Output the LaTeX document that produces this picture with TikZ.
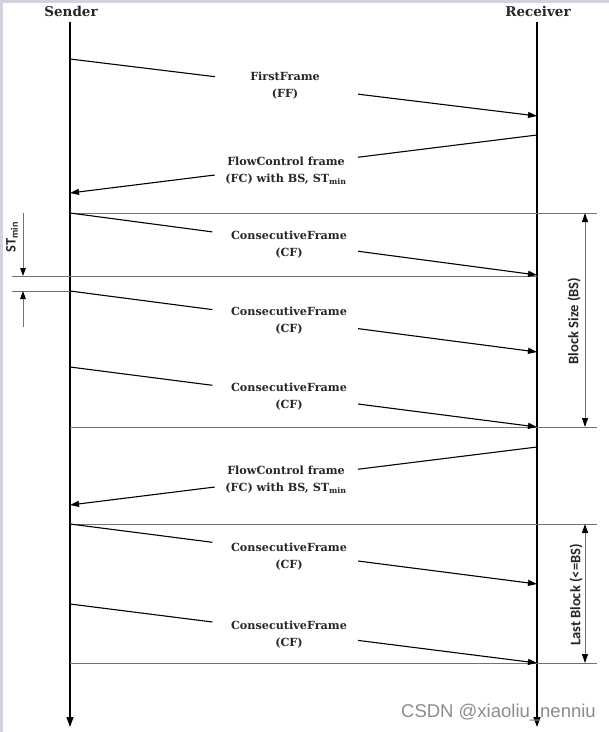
\documentclass[tikz,border=0pt]{standalone}
\usepackage{fontspec}
\setmainfont{DejaVu Serif}
\newfontfamily\sansb{Carlito}
\newfontfamily\wmfont{Liberation Sans}
\usetikzlibrary{arrows.meta,calc}
\newcommand\mymsg[4]{%
  \draw[msg] (#1) -- ($(#1)!#3!(#2)$);
  \draw[msg,tip] ($(#1)!#4!(#2)$) -- (#2);}
\begin{document}
\begin{tikzpicture}[x=1pt,y=-1pt,
  msg/.style={line width=1.1pt,black},
  tip/.style={-{Triangle[length=9pt,width=6pt]}},
  lbl/.style={font=\fontsize{11.2}{17}\selectfont\bfseries, align=center, inner sep=0pt, text=black!85},
  head/.style={font=\fontsize{13.5}{15}\selectfont\bfseries, inner sep=0pt, text=black!85},
  sepline/.style={line width=1pt, black!55},
  dim/.style={line width=1pt, black!55, {Triangle[length=9pt,width=6pt,fill=black,color=black]}-{Triangle[length=9pt,width=6pt,fill=black,color=black]}},
  dimtip/.style={line width=1pt, black!55, -{Triangle[length=8pt,width=5.5pt,fill=black,color=black]}},
  life/.style={line width=1.4pt, black, -{Triangle[length=10pt,width=7pt]}},
  side/.style={font=\sansb\bfseries\fontsize{14.5}{15}\selectfont, rotate=90, inner sep=0pt, text=black!85},
]
\useasboundingbox (0,0) rectangle (609,732);
\fill[white] (0,0) rectangle (609,732);
\fill[blue!15!gray!30] (0,0) rectangle (609,2.5);
\fill[blue!15!gray!30] (0,0) rectangle (3,732);

% headings and lifelines
\node[head] (snd) at (71,11) {Sender};
\node[head] (rcv) at (538,11) {Receiver};
\coordinate (s0) at (70,22);
\coordinate (s1) at (70,727);
\coordinate (r0) at (537,22);
\coordinate (r1) at (537,727);
\draw[life] (s0) -- (s1);
\draw[life] (r0) -- (r1);

% separators
\coordinate (h1a) at (70,213);  \coordinate (h1b) at (597,213);
\coordinate (h2a) at (12,276);  \coordinate (h2b) at (537,276);
\coordinate (h3a) at (12,291);  \coordinate (h3b) at (70,291);
\coordinate (h4a) at (70,427);  \coordinate (h4b) at (597,427);
\coordinate (h5a) at (70,524);  \coordinate (h5b) at (597,524);
\coordinate (h6a) at (70,663);  \coordinate (h6b) at (597,663);
\draw[sepline] (h1a) -- (h1b);
\draw[sepline] (h2a) -- (h2b);
\draw[sepline] (h3a) -- (h3b);
\draw[sepline] (h4a) -- (h4b);
\draw[sepline] (h5a) -- (h5b);
\draw[sepline] (h6a) -- (h6b);

% message end points
\coordinate (m1a) at (70,59);   \coordinate (m1b) at (537,116);
\coordinate (m2a) at (537,135); \coordinate (m2b) at (70,193);
\coordinate (m3a) at (70,213);  \coordinate (m3b) at (537,275);
\coordinate (m4a) at (70,291);  \coordinate (m4b) at (537,352);
\coordinate (m5a) at (70,367);  \coordinate (m5b) at (537,427);
\coordinate (m6a) at (537,447); \coordinate (m6b) at (70,505);
\coordinate (m7a) at (70,524);  \coordinate (m7b) at (537,584);
\coordinate (m8a) at (70,604);  \coordinate (m8b) at (537,663);

\mymsg{m1a}{m1b}{0.31}{0.617}
\mymsg{m2a}{m2b}{0.383}{0.69}
\mymsg{m3a}{m3b}{0.305}{0.617}
\mymsg{m4a}{m4b}{0.305}{0.617}
\mymsg{m5a}{m5b}{0.305}{0.617}
\mymsg{m6a}{m6b}{0.383}{0.69}
\mymsg{m7a}{m7b}{0.305}{0.617}
\mymsg{m8a}{m8b}{0.305}{0.617}

% labels
\node[lbl] (l1) at (285,86) {FirstFrame\\(FF)};
\node[lbl] (l2) at (286,171) {FlowControl frame\\(FC) with BS, ST\textsubscript{min}};
\node[lbl] (l3) at (289,245) {ConsecutiveFrame\\(CF)};
\node[lbl] (l4) at (289,321) {ConsecutiveFrame\\(CF)};
\node[lbl] (l5) at (289,397) {ConsecutiveFrame\\(CF)};
\node[lbl] (l6) at (286,480) {FlowControl frame\\(FC) with BS, ST\textsubscript{min}};
\node[lbl] (l7) at (289,557) {ConsecutiveFrame\\(CF)};
\node[lbl] (l8) at (289,635) {ConsecutiveFrame\\(CF)};

% ST_min marker
\coordinate (st0) at (23,213);
\coordinate (st1) at (23,276);
\coordinate (st2) at (23,327);
\coordinate (st3) at (23,291);
\draw[dimtip] (st0) -- (st1);
\draw[dimtip] (st2) -- (st3);
\node[side] (stl) at (12,237) {ST\textsubscript{min}};

% block size markers
\coordinate (bs0) at (585,213);
\coordinate (bs1) at (585,427);
\coordinate (lb0) at (585,524);
\coordinate (lb1) at (585,663);
\draw[dim] (bs0) -- (bs1);
\draw[dim] (lb0) -- (lb1);
\node[side] (bsl) at (574,321) {Block Size (BS)};
\node[side] (lbl) at (576,595) {Last Block (<=BS)};

% watermark
\node[text=black!45, font=\wmfont\fontsize{18.5}{19}\selectfont, anchor=east, inner sep=0pt] (wmk) at (596,713) {CSDN @xiaoliu\_nenniu};
\end{tikzpicture}
\end{document}
